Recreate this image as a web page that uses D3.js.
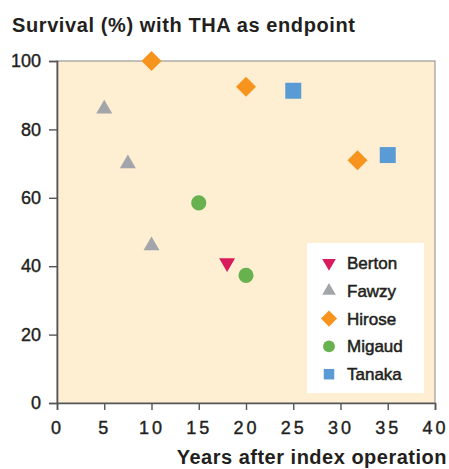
<!DOCTYPE html>
<html>
<head>
<meta charset="utf-8">
<script src="https://cdn.jsdelivr.net/npm/d3@7"></script>
<style>
  body { margin: 0; background: #ffffff; }
  text { font-family: "Liberation Sans", Arial, sans-serif; fill: #231f20; }
</style>
</head>
<body>
<div id="chart"></div>
<script>
// Study names and colours
const studies = ['Berton', 'Fawzy', 'Hirose', 'Migaud', 'Tanaka'];
const colors = ['#d81b5c', '#a2a5a9', '#f7941d', '#67b14f', '#5b9bd5'];

// Survival points per study: [years, survival %]
const berton = [[18, 41]];
const fawzy = [[5, 86], [7.5, 70], [10, 46]];
const hirose = [[10, 100], [20, 92.5], [31.8, 71]];
const migaud = [[15, 58.5], [20, 37.3]];
const tanaka = [[25, 91.3], [35, 72.5]];

const xTicks = [0, 5, 10, 15, 20, 25, 30, 35, 40];
const yTicks = [0, 20, 40, 60, 80, 100];

const width = 449, height = 469;
const margin = { top: 61, right: 14, bottom: 66, left: 57 };

const svg = d3.select('#chart').append('svg')
    .attr('width', width)
    .attr('height', height);

const x = d3.scaleLinear().domain([0, 40]).range([margin.left, width - margin.right]);
const y = d3.scaleLinear().domain([0, 100]).range([height - margin.bottom, margin.top]);

// Plot background with grey frame on top/right
svg.append('rect')
    .attr('x', x(0)).attr('y', y(100))
    .attr('width', x(40) - x(0)).attr('height', y(0) - y(100))
    .attr('fill', '#feeed2')
    .attr('stroke', '#9a9a9a')
    .attr('stroke-width', 1.2);

// Axes
const xAxis = svg.append('g')
    .attr('transform', `translate(0,${y(0)})`)
    .call(d3.axisBottom(x).tickValues(xTicks).tickSize(7).tickPadding(11));
const yAxis = svg.append('g')
    .attr('transform', `translate(${x(0)},0)`)
    .call(d3.axisLeft(y).tickValues(yTicks).tickSize(8).tickPadding(8));

[xAxis, yAxis].forEach(ax => {
    ax.select('.domain').attr('stroke', '#555').attr('stroke-width', 1.6);
    ax.selectAll('.tick line').attr('stroke', '#555').attr('stroke-width', 1.4);
    ax.selectAll('.tick text')
        .style('font-family', '"Liberation Sans", Arial, sans-serif')
        .style('font-size', '18px')
        .style('fill', '#231f20')
        .style('stroke', '#231f20')
        .style('stroke-width', '0.4px');
});
xAxis.selectAll('.tick text').style('letter-spacing', '3px');

// Title and axis label
svg.append('text')
    .attr('x', 12).attr('y', 32)
    .style('font-size', '20px')
    .style('font-weight', '600')
    .style('letter-spacing', '0.6px')
    .text('Survival (%) with THA as endpoint');

svg.append('text')
    .attr('x', 447).attr('y', 464)
    .attr('text-anchor', 'end')
    .style('font-size', '20px')
    .style('font-weight', '600')
    .style('letter-spacing', '0.5px')
    .text('Years after index operation');

// Symbols
const shapes = [
    d3.symbol().type(d3.symbolTriangle).size(110),
    d3.symbol().type(d3.symbolTriangle).size(110),
    d3.symbol().type(d3.symbolSquare).size(200),
    d3.symbol().type(d3.symbolCircle).size(180),
    d3.symbol().type(d3.symbolSquare).size(256)
];
const rotations = [180, 0, 45, 0, 0];
const series = [berton, fawzy, hirose, migaud, tanaka];

series.forEach((pts, i) => {
    svg.append('g').selectAll('path')
        .data(pts)
        .enter()
        .append('path')
        .attr('d', shapes[i])
        .attr('transform', d => `translate(${x(d[0])},${y(d[1])}) rotate(${rotations[i]})`)
        .attr('fill', colors[i]);
});

// Legend
const legend = svg.append('g').attr('transform', 'translate(307,243)');
legend.append('rect')
    .attr('width', 117).attr('height', 150)
    .attr('fill', '#ffffff');

const legendShapes = [
    d3.symbol().type(d3.symbolTriangle).size(80),
    d3.symbol().type(d3.symbolTriangle).size(80),
    d3.symbol().type(d3.symbolSquare).size(130),
    d3.symbol().type(d3.symbolCircle).size(110),
    d3.symbol().type(d3.symbolSquare).size(110)
];

studies.forEach((name, i) => {
    const row = legend.append('g').attr('transform', `translate(0,${20 + i * 27.8})`);
    row.append('path')
        .attr('d', legendShapes[i])
        .attr('transform', `translate(22,0) rotate(${rotations[i]})`)
        .attr('fill', colors[i]);
    row.append('text')
        .attr('x', 40).attr('y', 6)
        .style('font-size', '17px')
        .style('stroke', '#231f20')
        .style('stroke-width', '0.5px')
        .text(name);
});
</script>
</body>
</html>
